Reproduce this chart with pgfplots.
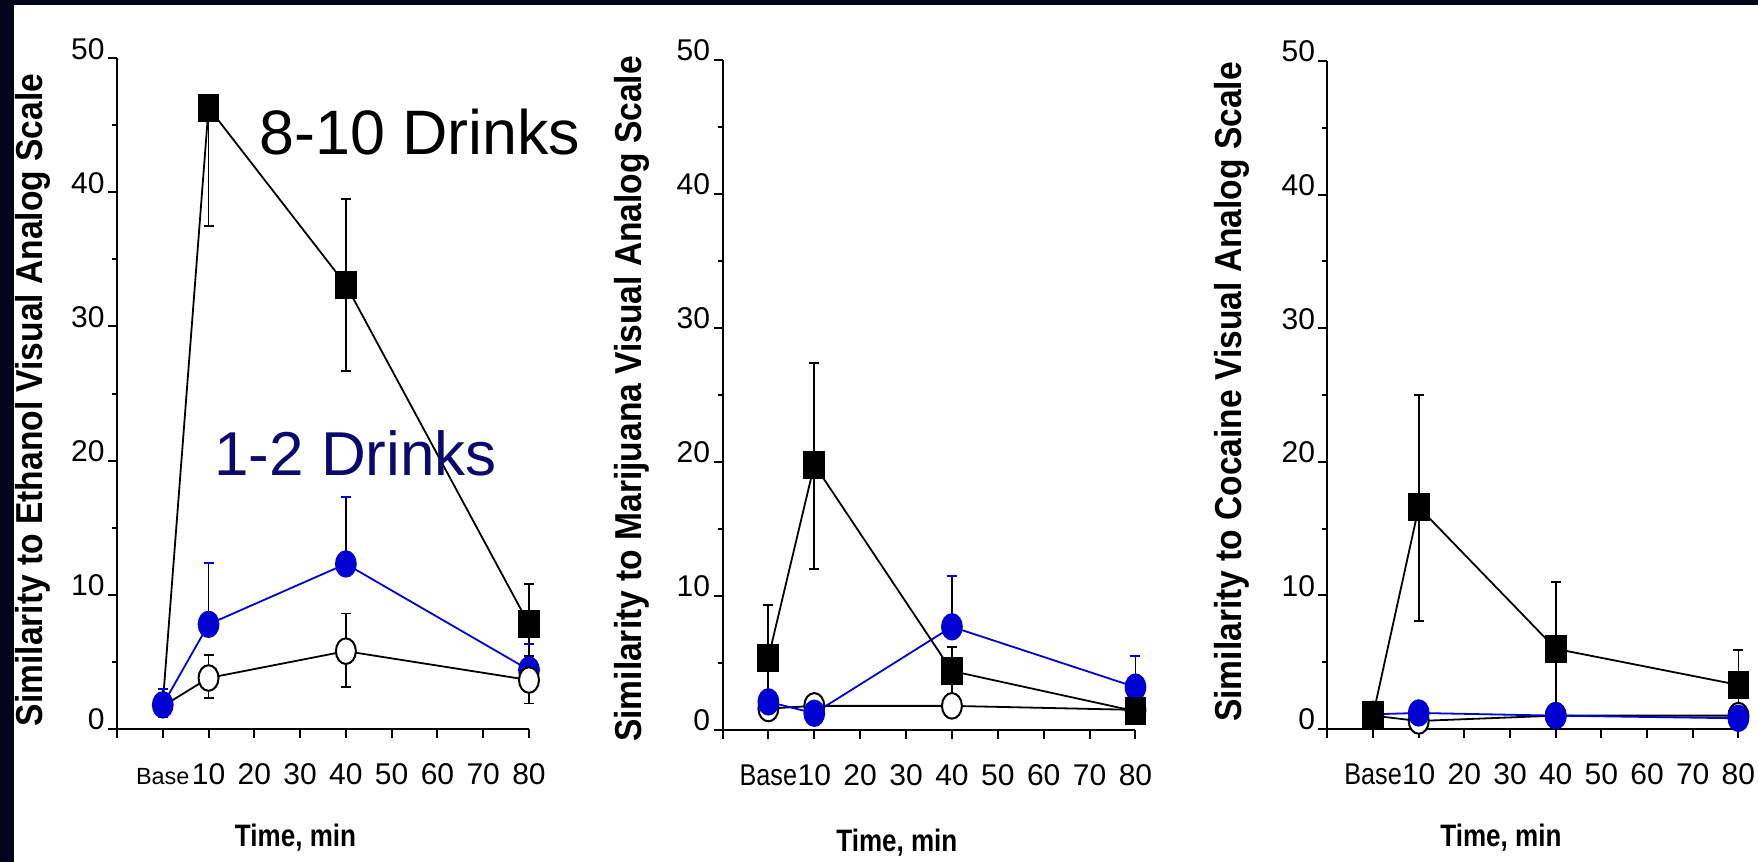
\documentclass[border=0pt]{standalone}
\usepackage{pgfplots}
\pgfplotsset{compat=1.18}
\usepackage{fontspec}
\setmainfont{Liberation Sans}
\newfontfamily\labfont{Liberation Sans}[FakeStretch=0.895]
\newfontfamily\timefont{Liberation Sans}[FakeStretch=0.84]
\newfontfamily\condfont{Liberation Sans}[FakeStretch=0.84]
\definecolor{bgnavy}{RGB}{3,3,28}
\definecolor{mblue}{RGB}{0,0,210}
\definecolor{tnavy}{RGB}{10,10,110}

\pgfplotsset{
  panel/.style={
    scale only axis, width=206pt, height=335.5pt,
    xmin=-10, xmax=80, ymin=0, ymax=50,
    axis lines=left, axis line style={-, line width=1pt},
    enlargelimits=false, clip=false,
    xtick={-10,0,10,20,30,40,50,60,70,80},
    xticklabels={,{\condfont Base},10,20,30,40,50,60,70,80},
    ytick={0,10,20,30,40,50}, yticklabels={0,10,20,30,40,50},
    minor ytick={5,15,25,35,45},
    tick align=outside, tick style={black, line width=1pt},
    major tick length=4.5pt, minor tick length=2.5pt,
    xticklabel style={font=\fontsize{15}{16}\selectfont, anchor=base, yshift=-23.5pt},
    yticklabel style={font=\fontsize{15}{16}\selectfont, anchor=base east, inner sep=0pt, xshift=-1.5pt, yshift=-0.5pt},
  },
  sq/.style={black, line width=0.9pt, mark=square*, mark size=6.5pt,
    mark options={xscale=0.77, fill=black, solid},
    error bars/.cd, y dir=both, y explicit,
    error bar style={black, line width=0.9pt},
    error mark options={rotate=90, black, mark size=2.5pt, line width=0.9pt}},
  bl/.style={mblue, line width=0.9pt, mark=*, mark size=6.4pt,
    mark options={xscale=0.78, fill=mblue, draw=mblue},
    error bars/.cd, y dir=both, y explicit,
    error bar style={black, line width=0.9pt},
    error mark options={rotate=90, mblue, mark size=2.5pt, line width=1pt}},
  op/.style={black, line width=0.9pt, mark=*, mark size=6.4pt,
    mark options={xscale=0.78, fill=white, draw=black, line width=1pt},
    error bars/.cd, y dir=both, y explicit,
    error bar style={black, line width=0.9pt},
    error mark options={rotate=90, black, mark size=2.5pt, line width=0.9pt}},
}

\begin{document}
\begin{tikzpicture}
\path[use as bounding box] (0,0) rectangle (879pt,431pt);
\fill[bgnavy] (0,0) rectangle (879pt,431pt);
\fill[white] (7pt,0) rectangle (879pt,428.5pt);

% ---------- Panel 1: Ethanol ----------
\begin{axis}[panel, at={(58.5pt,66.5pt)}, anchor=south west,
  xticklabels={,{\fontsize{11.7}{12}\selectfont Base\hspace{2pt}},10,20,30,40,50,60,70,80}]
\addplot[mark indices={2,3,4}, sq] table[x=x, y=y, y error plus=ep, y error minus=em] {
x y ep em
0 1.9 0 0
10 46.3 0 8.8
40 33.1 6.4 6.4
80 7.8 3.0 3.0
};
\addplot[bl] table[x=x, y=y, y error plus=ep, y error minus=em] {
x y ep em
0 1.8 1.2 0.9
10 7.8 4.6 0
40 12.3 5.0 0
80 4.4 1.9 0
};
\addplot[mark indices={2,3,4}, op] table[x=x, y=y, y error plus=ep, y error minus=em] {
x y ep em
0 1.7 0 0
10 3.8 1.7 1.5
40 5.8 2.8 2.65
80 3.65 1.8 1.75
};
\node[anchor=base, font=\timefont\bfseries\fontsize{15.5}{17}\selectfont] at (axis cs:29,0) [yshift=-59pt] {Time, min};
\end{axis}

% ---------- Panel 2: Marijuana ----------
\begin{axis}[panel, at={(361.25pt,66pt)}, anchor=south west, width=206.5pt, height=335pt]
\addplot[op] table[x=x, y=y, y error plus=ep, y error minus=em] {
x y ep em
0 1.6 0 0
10 1.8 0 0
40 1.8 0 0
80 1.5 0 0
};
\addplot[bl] table[x=x, y=y, y error plus=ep, y error minus=em] {
x y ep em
0 2.1 0 0
10 1.25 0 0
40 7.7 3.8 0
80 3.2 2.3 0
};
\addplot[sq] table[x=x, y=y, y error plus=ep, y error minus=em] {
x y ep em
0 5.4 3.9 3.9
10 19.8 7.6 7.8
40 4.4 1.8 1.9
80 1.4 0 0
};
\node[anchor=base, font=\timefont\bfseries\fontsize{15.5}{17}\selectfont] at (axis cs:28,0) [yshift=-61pt] {Time, min};
\end{axis}

% ---------- Panel 3: Cocaine ----------
\begin{axis}[panel, at={(663.7pt,66.5pt)}, anchor=south west, width=205.5pt, height=334pt]
\addplot[op] table[x=x, y=y, y error plus=ep, y error minus=em] {
x y ep em
0 1.0 0 0
10 0.6 0 0
40 1.0 0 0
80 1.0 0 0
};
\addplot[bl] table[x=x, y=y, y error plus=ep, y error minus=em] {
x y ep em
0 1.1 0 0
10 1.2 0 0
40 1.0 0 0
80 0.8 0 0
};
\addplot[sq] table[x=x, y=y, y error plus=ep, y error minus=em] {
x y ep em
0 1.05 0 0
10 16.6 8.4 8.5
40 6.0 5.0 4.8
80 3.3 2.6 2.1
};
\node[anchor=base, font=\timefont\bfseries\fontsize{15.5}{17}\selectfont] at (axis cs:28,0) [yshift=-59pt] {Time, min};
\end{axis}

% ---------- y labels ----------
\node[rotate=90, anchor=base, inner sep=0pt, font=\labfont\bfseries\fontsize{18.75}{20}\selectfont] at (21pt,231pt) {Similarity to  Ethanol Visual Analog Scale};
\node[rotate=90, anchor=base, inner sep=0pt, font=\labfont\bfseries\fontsize{18.75}{20}\selectfont] at (320.5pt,231.5pt) {Similarity to  Marijuana Visual Analog Scale};
\node[rotate=90, anchor=base, inner sep=0pt, font=\labfont\bfseries\fontsize{18.75}{20}\selectfont] at (620.5pt,235pt) {Similarity to  Cocaine Visual Analog Scale};

% ---------- annotations ----------
\node[anchor=base west, inner sep=0pt, font=\fontsize{31.4}{33}\selectfont] at (129.5pt,353.5pt) {8-10 Drinks};
\node[anchor=base west, inner sep=0pt, text=tnavy, font=\fontsize{31}{33}\selectfont] at (107pt,193pt) {1-2 Drinks};
\end{tikzpicture}
\end{document}
